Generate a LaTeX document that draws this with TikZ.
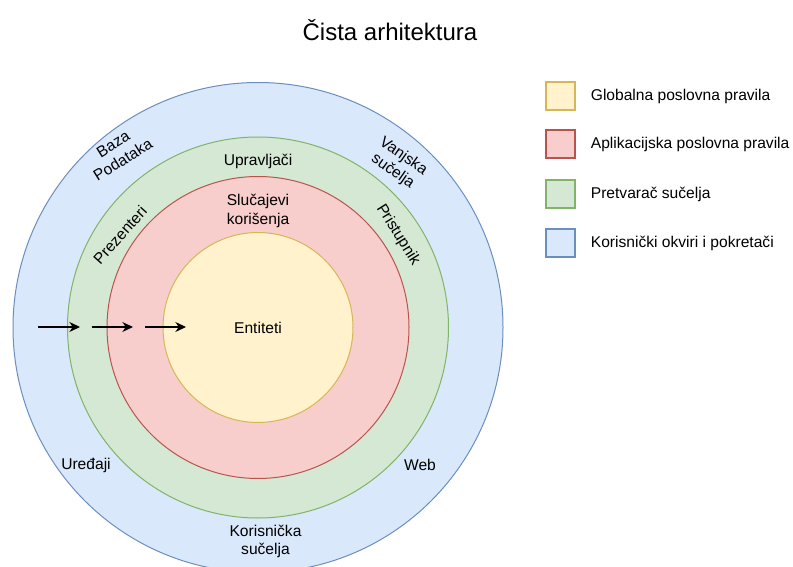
\documentclass[tikz,border=0pt]{standalone}
\usepackage{fontspec}
\setmainfont{Liberation Sans}
\usepackage{tikz}
\usetikzlibrary{positioning,arrows.meta}

\definecolor{yelfill}{HTML}{FFF2CC}
\definecolor{yelline}{HTML}{D6B656}
\definecolor{redfill}{HTML}{F8CECC}
\definecolor{redline}{HTML}{B85450}
\definecolor{grnfill}{HTML}{D5E8D4}
\definecolor{grnline}{HTML}{82B366}
\definecolor{blufill}{HTML}{DAE8FC}
\definecolor{bluline}{HTML}{6C8EBF}

\tikzset{
  ring/.style={circle, inner sep=0pt, line width=0.75pt},
  txt/.style={font=\fontsize{11.7}{13.8}\selectfont, align=center, inner sep=0pt},
  keybox/.style={rectangle, inner sep=0pt, line width=0.9pt, minimum width=21.75pt, minimum height=21pt},
  keytxt/.style={txt, anchor=west},
  flow/.style={line width=0.9pt, -{Stealth[length=8pt,width=7.5pt]}}
}

\begin{document}
\begin{tikzpicture}[x=0.75pt,y=0.75pt,yscale=-1,xscale=1]
%set diagram left start at 0, and has height of 567
\fill[white] (0,0) rectangle (793,567);
\clip (0,0) rectangle (793,567);

% Title
\node[font=\fontsize{18}{22}\selectfont] (naslov) at (390,30) {Čista arhitektura};

% Rings
\node[ring, draw=bluline, fill=blufill, minimum size=367.5pt] (okviri) at (258,327.5) {};
\node[ring, draw=grnline, fill=grnfill, minimum size=285.75pt] (pretvarac) at (258,327.5) {};
\node[ring, draw=redline, fill=redfill, minimum size=226.5pt] (slucajevi) at (258,327.5) {};
\node[ring, draw=yelline, fill=yelfill, minimum size=142.5pt, font=\fontsize{11.7}{13.8}\selectfont] (entiteti) at (258,327.5) {Entiteti};

% Ring labels
\node[txt, rotate=32] (baza) at (118,152) {Baza\\Podataka};
\node[txt, rotate=-35] (vanjska) at (398,164) {Vanjska\\sučelja};
\node[txt] (upravljaci) at (258,161.5) {Upravljači};
\node[txt] (koristenje) at (258,211) {Slučajevi\\korišenja};
\node[txt, rotate=48] (prezenteri) at (120,235) {Prezenteri};
\node[txt, rotate=-58] (pristupnik) at (398,235) {Pristupnik};
\node[txt] (uredaji) at (86,465) {Uređaji};
\node[txt] (web) at (420,465) {Web};
\node[txt] (korsucelja) at (265.5,541.7) {Korisnička\\sučelja};

% Arrows
\coordinate (a1) at (38,327);
\coordinate (b1) at (80,327);
\coordinate (a2) at (91.5,327);
\coordinate (b2) at (133,327);
\coordinate (a3) at (145,327);
\coordinate (b3) at (186,327);
\draw[flow] (a1) -- (b1);
\draw[flow] (a2) -- (b2);
\draw[flow] (a3) -- (b3);

% Legend
\node[keybox, draw=yelline, fill=yelfill] (kglobal) at (560.5,96) {};
\node[keybox, draw=redline, fill=redfill] (kaplik) at (560.5,144) {};
\node[keybox, draw=grnline, fill=grnfill] (kpretv) at (560.5,194) {};
\node[keybox, draw=bluline, fill=blufill] (kokvir) at (560.5,243) {};
\node[keytxt, right=11.25pt of kglobal] (tglobal) {Globalna poslovna pravila};
\node[keytxt, right=11.25pt of kaplik] (taplik) {Aplikacijska poslovna pravila};
\node[keytxt, right=11.25pt of kpretv] (tpretv) {Pretvarač sučelja};
\node[keytxt, right=11.25pt of kokvir] (tokvir) {Korisnički okviri i pokretači};

\end{tikzpicture}
\end{document}
